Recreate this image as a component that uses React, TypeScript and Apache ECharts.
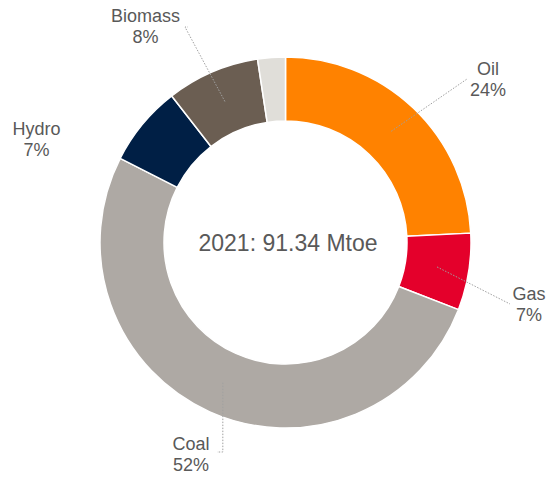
import React, { useEffect, useRef } from "react";
import * as echarts from "echarts";

// ---- data ----
const categories = ["Oil", "Gas", "Coal", "Hydro", "Biomass", "Other"];
const values = [22.1, 6.12, 47.13, 6.39, 7.4, 2.2]; // Mtoe, 2021
const colors = ["#FF8200", "#E4002B", "#AEA9A4", "#001F45", "#6B5E52", "#E0DED9"];
const showLabel = [true, true, true, true, true, false];
const showLine = [true, true, true, false, true, false];
const centerText = "2021: 91.34 Mtoe";

// ---- layout ----
const W = 547;
const H = 477;
const CX = 285.5;
const CY = 242.5;
const R_IN = 121.5;
const R_OUT = 185.5;
const R_MID = (R_IN + R_OUT) / 2;
// label block centres
const labelPos: number[][] = [
  [488, 79],
  [529, 304],
  [191, 454],
  [36.5, 139],
  [145.5, 26],
  [0, 0],
];
// leader line routes after the start point (which is computed from data); "V" = vertical to y
const lineRoute: (number[] | string)[][] = [
  [[467, 79]],
  [[510, 304]],
  ["V", [217, 452]],
  [],
  [[185, 27], [188, 27]],
  [],
];

export default function App() {
  const ref = useRef<HTMLDivElement>(null);
  useEffect(() => {
    if (!ref.current) return;
    const chart = echarts.init(ref.current, undefined, { renderer: "svg" });
    const total = values.reduce((a, b) => a + b, 0);
    const mid: number[] = [];
    let acc = 0;
    values.forEach((v) => {
      mid.push(((acc + v / 2) / total) * Math.PI * 2);
      acc += v;
    });
    const font = "'Liberation Sans', Arial, sans-serif";
    const common = {
      type: "pie",
      center: [CX, CY],
      radius: [R_IN, R_OUT],
      startAngle: 90,
      clockwise: true,
      avoidLabelOverlap: false,
      percentPrecision: 0,
      silent: true,
      emphasis: { disabled: true },
    };
    chart.setOption({
      animation: false,
      graphic: [
        {
          type: "text",
          x: 288,
          y: 243,
          silent: true,
          style: {
            text: centerText,
            fill: "#595959",
            font: `23px ${font}`,
            textAlign: "center",
            textVerticalAlign: "middle",
          },
        },
      ],
      series: [
        {
          ...common,
          z: 2,
          itemStyle: { borderColor: "#ffffff", borderWidth: 1.5 },
          label: { show: false },
          labelLine: { show: false },
          data: categories.map((name, i) => ({
            name,
            value: values[i],
            itemStyle: { color: colors[i] },
          })),
        },
        {
          ...common,
          z: 4,
          itemStyle: { color: "rgba(0,0,0,0)", borderWidth: 0 },
          label: {
            show: true,
            position: "outside",
            formatter: "{b}\n{d}%",
            color: "#595959",
            fontSize: 18,
            lineHeight: 21,
            fontFamily: font,
            align: "center",
          },
          labelLine: {
            show: true,
            lineStyle: { color: "#A0A0A0", width: 1, type: [1.5, 1.5] },
          },
          labelLayout: (p: any) => {
            const i = p.dataIndex;
            const pos = labelPos[i];
            const a = mid[i];
            const sx = CX + R_MID * Math.sin(a);
            const sy = CY - R_MID * Math.cos(a);
            const pts: number[][] = [[sx, sy]];
            lineRoute[i].forEach((step, k) => {
              if (step === "V") {
                const nxt = lineRoute[i][k + 1] as number[];
                pts.push([sx, nxt[1]]);
              } else {
                pts.push(step as number[]);
              }
            });
            const out: any = {
              x: pos[0],
              y: pos[1],
              align: "center",
              verticalAlign: "middle",
            };
            if (showLine[i]) out.labelLinePoints = pts;
            return out;
          },
          data: categories.map((name, i) => ({
            name,
            value: values[i],
            label: { show: showLabel[i] },
            labelLine: { show: showLine[i] },
          })),
        },
      ],
    });
    return () => chart.dispose();
  }, []);
  return (
    <div
      ref={ref}
      style={{ position: "absolute", left: 0, top: 0, width: W, height: H, background: "#fff" }}
    />
  );
}
